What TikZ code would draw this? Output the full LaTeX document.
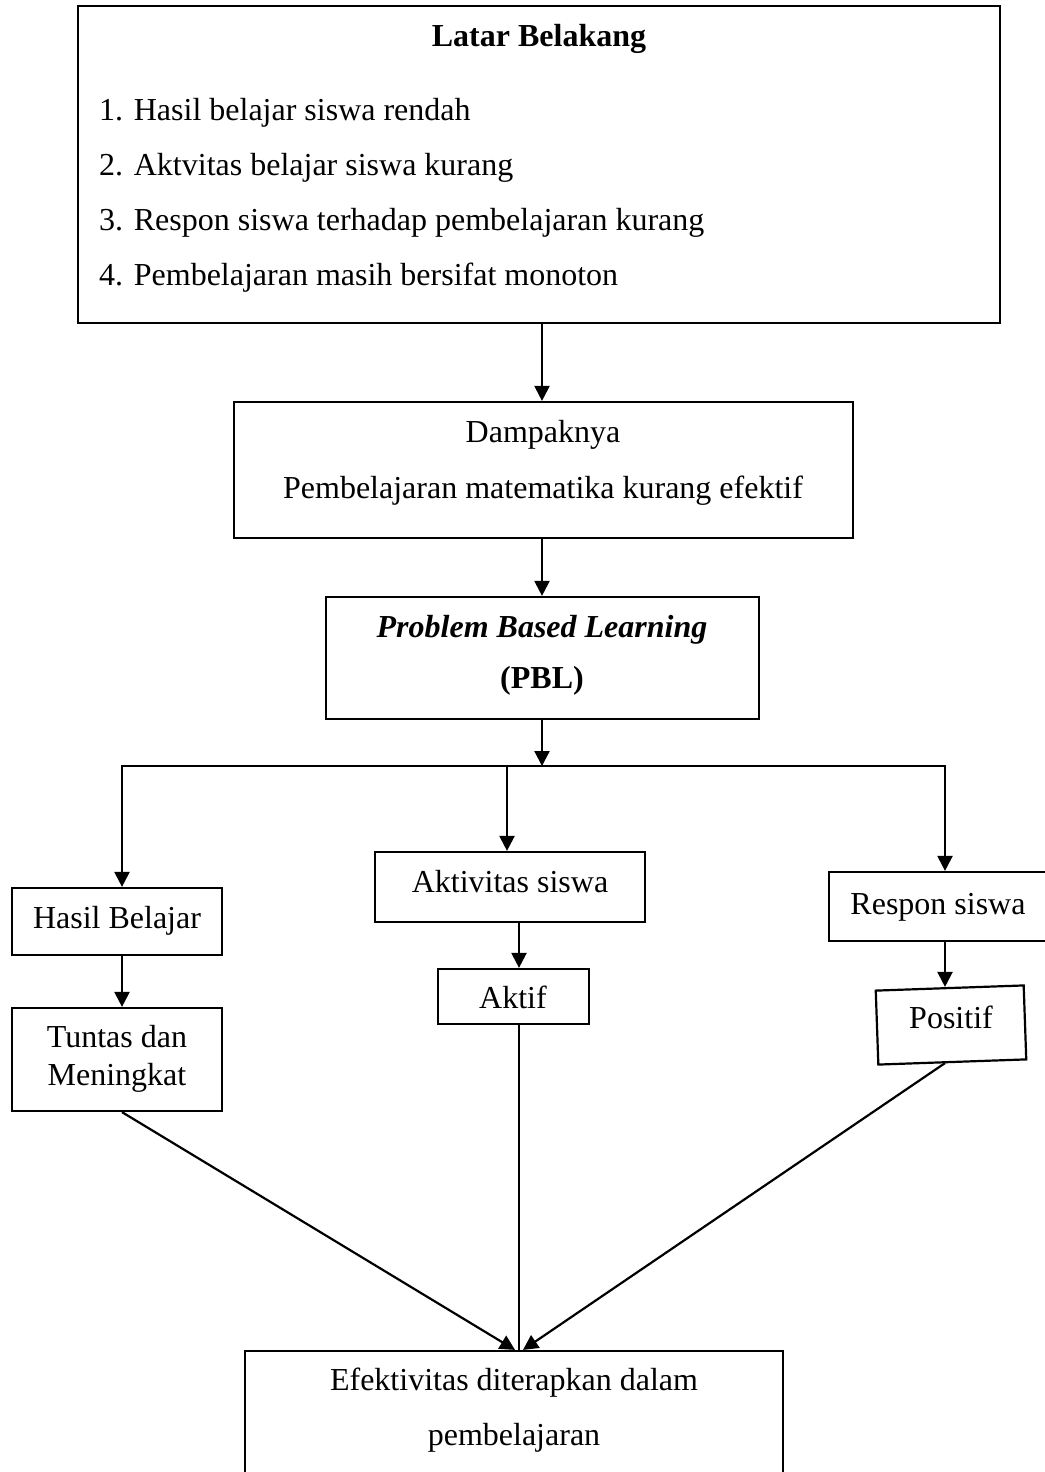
\documentclass[tikz,border=0pt]{standalone}
\usepackage{fontspec}
\setmainfont{Liberation Serif}
\usetikzlibrary{arrows.meta}
\begin{document}
\begin{tikzpicture}[x=1pt,y=-1pt,
 box/.style={draw,line width=2.2pt,inner sep=0pt},
 txt/.style={inner sep=0pt,anchor=base,font=\fontsize{32}{38}\selectfont},
 ltxt/.style={txt,anchor=base west},
 arr/.style={line width=2.2pt,-{Triangle[length=15pt,width=15pt]}},
 thinln/.style={line width=1.6pt}]
\useasboundingbox (0,0) rectangle (1044,1472);
% boxes
\node[box,minimum width=922pt,minimum height=317pt] (top) at (539,164.5) {};
\node[box,minimum width=619pt,minimum height=136pt] (damp) at (543.5,470) {};
\node[box,minimum width=433pt,minimum height=122pt] (pbl) at (542.5,658) {};
\node[box,minimum width=210pt,minimum height=67pt] (hasil) at (117,921.5) {};
\node[box,minimum width=270pt,minimum height=70pt] (aktiv) at (510,887) {};
\node[box,minimum width=231pt,minimum height=69pt] (respon) at (944.5,906.5) {};
\node[box,minimum width=210pt,minimum height=103pt] (tuntas) at (117,1059.5) {};
\node[box,minimum width=151pt,minimum height=55pt] (aktif) at (513.5,996.5) {};
\node[box,minimum width=148pt,minimum height=74pt,rotate=2] (pos) at (951,1025) {};
\node[box,minimum width=538pt,minimum height=149pt] (efek) at (514,1425.5) {};
% texts
\node[txt,font=\fontsize{32}{38}\selectfont\bfseries] (t0) at (539,47) {Latar Belakang};
\node[ltxt] (t1) at (99,120) {1. Hasil belajar siswa rendah};
\node[ltxt] (t2) at (99,175) {2. Aktvitas belajar siswa kurang};
\node[ltxt] (t3) at (99,230) {3. Respon siswa terhadap pembelajaran kurang};
\node[ltxt] (t4) at (99,285) {4. Pembelajaran masih bersifat monoton};
\node[txt] (d1) at (543,442) {Dampaknya};
\node[txt] (d2) at (543,498) {Pembelajaran matematika kurang efektif};
\node[txt,font=\fontsize{32}{38}\selectfont\bfseries\itshape] (p1) at (542,637) {Problem Based Learning};
\node[txt,font=\fontsize{32}{38}\selectfont\bfseries] (p2) at (542,688) {(PBL)};
\node[txt] (h1) at (117,928) {Hasil Belajar};
\node[txt] (a1) at (510,892) {Aktivitas siswa};
\node[txt] (r1) at (938,914) {Respon siswa};
\node[txt] (u1) at (117,1047) {Tuntas dan};
\node[txt] (u2) at (117,1085) {Meningkat};
\node[txt] (k1) at (513,1008) {Aktif};
\node[txt] (s1) at (951,1028) {Positif};
\node[txt] (e1) at (514,1390) {Efektivitas diterapkan dalam};
\node[txt] (e2) at (514,1445) {pembelajaran};
% connector guides
\coordinate (split) at (542,766);
\coordinate (xL) at (122,0);
\coordinate (xM) at (507,0);
\coordinate (xA) at (519,0);
\coordinate (xR) at (945,0);
% connectors
\draw[arr] (top.south -| split) -- (damp.north -| split);
\draw[arr] (damp.south -| split) -- (pbl.north -| split);
\draw[arr] (pbl.south -| split) -- (split);
\draw[arr] (split) -| (hasil.north -| xL);
\draw[arr] (split) -| (respon.north -| xR);
\draw[arr] (split -| xM) -- (aktiv.north -| xM);
\draw[arr] (hasil.south -| xL) -- (tuntas.north -| xL);
\draw[arr] (aktiv.south -| xA) -- (aktif.north -| xA);
\draw[arr] (respon.south -| xR) -- (pos.north -| xR);
\draw[arr] (tuntas.south -| xL) -- ([xshift=1pt]efek.north);
\draw[thinln] (aktif.south -| xA) -- (efek.north -| xA);
\draw[arr] (pos.south -| xR) -- ([xshift=9pt]efek.north);
\end{tikzpicture}
\end{document}
